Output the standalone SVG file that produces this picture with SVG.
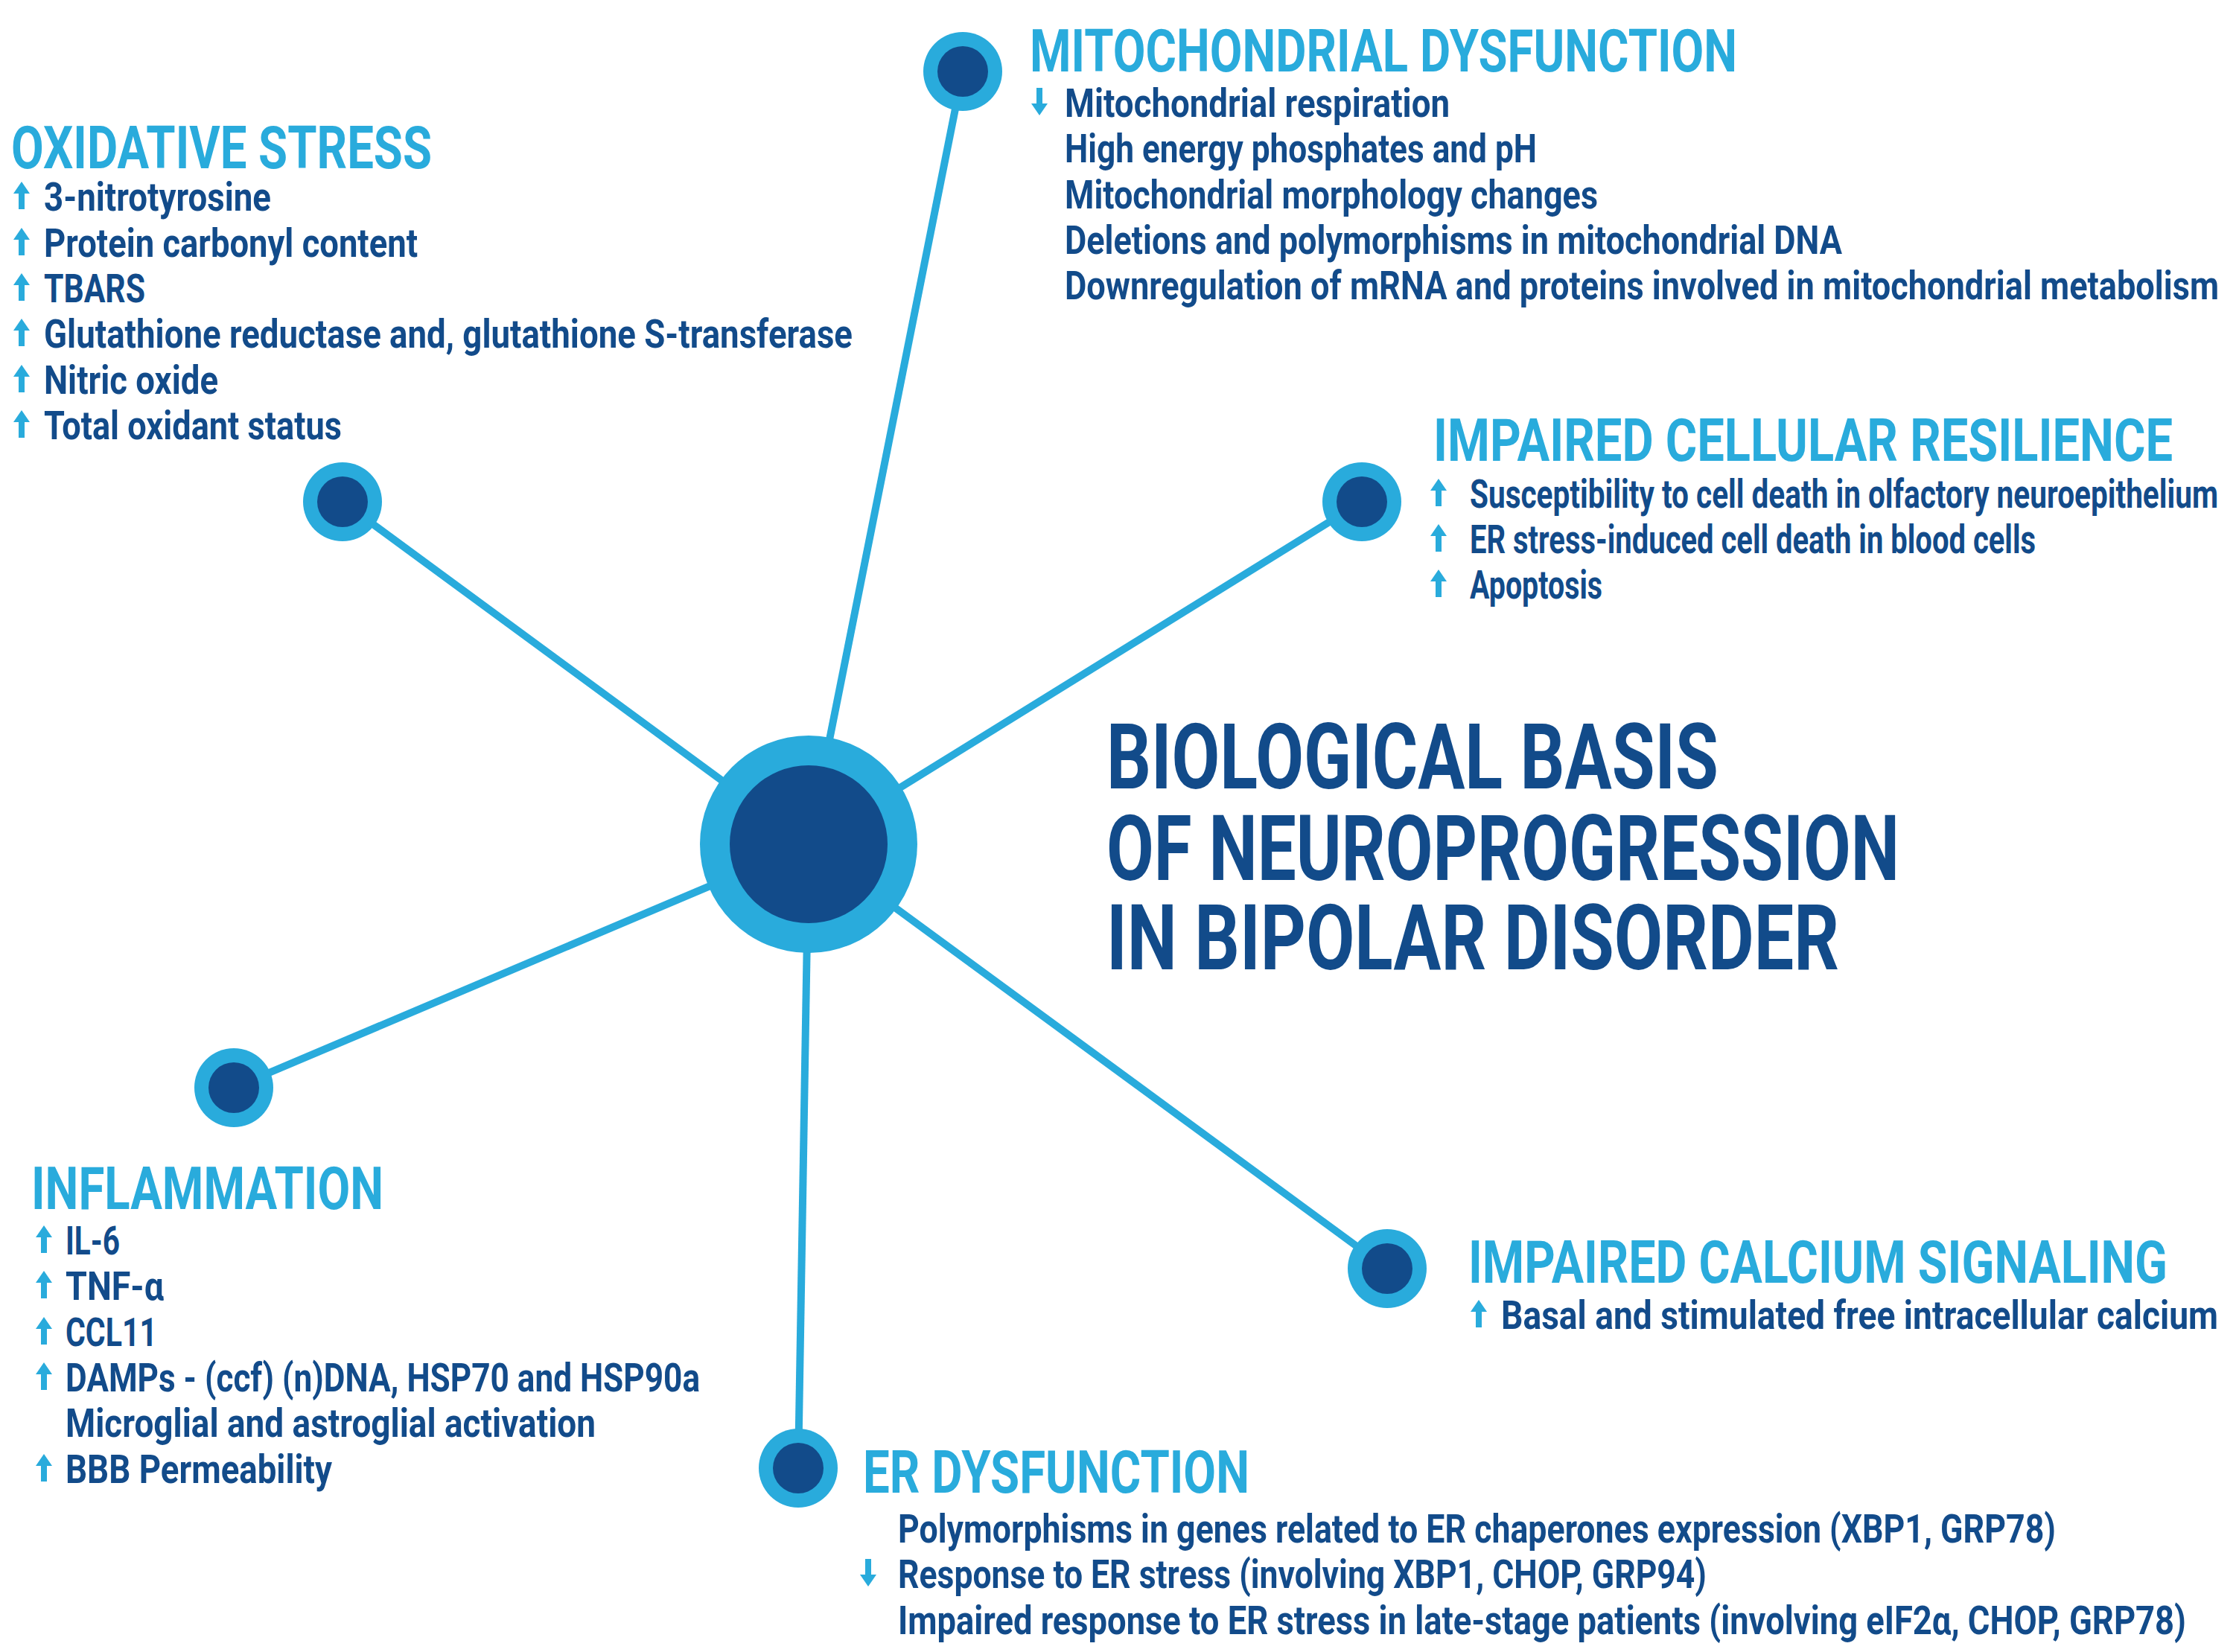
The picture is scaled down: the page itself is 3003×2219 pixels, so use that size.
<svg xmlns="http://www.w3.org/2000/svg" xmlns:xlink="http://www.w3.org/1999/xlink" width="3003" height="2219" viewBox="0 0 3003 2219">
<style>
.h{font-family:Roboto,"Liberation Sans",sans-serif;font-weight:700;fill:#29abdc;font-size:80px}
.t{font-family:Roboto,"Liberation Sans",sans-serif;font-weight:700;fill:#124b8a;font-size:53px}
.big{font-family:Roboto,"Liberation Sans",sans-serif;font-weight:700;fill:#124b8a;font-size:122px}
.ln{stroke:#29abdc;stroke-width:10;fill:none}
.o{fill:#29abdc}.i{fill:#124b8a}
</style>
<defs>
<path id="up" d="M0,-39 L11,-23 L4,-23 L4,-2 L-4,-2 L-4,-23 L-11,-23 Z" fill="#29abdc"/>
<path id="dn" d="M0,-2 L11,-18 L4,-18 L4,-39 L-4,-39 L-4,-18 L-11,-18 Z" fill="#29abdc"/>
</defs>
<rect width="3003" height="2219" fill="#fff"/>
<g id="connectors">
<line class="ln" x1="1086" y1="1134" x2="460" y2="674"/>
<line class="ln" x1="1086" y1="1134" x2="1293" y2="96"/>
<line class="ln" x1="1086" y1="1134" x2="1829" y2="674"/>
<line class="ln" x1="1086" y1="1134" x2="314" y2="1461"/>
<line class="ln" x1="1086" y1="1134" x2="1072" y2="1972"/>
<line class="ln" x1="1086" y1="1134" x2="1863" y2="1704"/>
</g>
<g id="center"><circle class="o" cx="1086" cy="1134" r="146"/><circle class="i" cx="1086" cy="1134" r="106"/>
<text class="big" x="1486" y="1059" textLength="822" lengthAdjust="spacingAndGlyphs">BIOLOGICAL BASIS</text>
<text class="big" x="1486" y="1182" textLength="1065" lengthAdjust="spacingAndGlyphs">OF NEUROPROGRESSION</text>
<text class="big" x="1486" y="1302" textLength="984" lengthAdjust="spacingAndGlyphs">IN BIPOLAR DISORDER</text></g>
<g id="oxidative"><circle class="o" cx="460" cy="674" r="53"/><circle class="i" cx="460" cy="674" r="34"/>
<text class="h" x="15" y="226" textLength="565" lengthAdjust="spacingAndGlyphs">OXIDATIVE STRESS</text>
<use xlink:href="#up" x="29" y="283"/><text class="t" x="59" y="283" textLength="305" lengthAdjust="spacingAndGlyphs">3-nitrotyrosine</text>
<use xlink:href="#up" x="29" y="345"/><text class="t" x="59" y="345" textLength="502" lengthAdjust="spacingAndGlyphs">Protein carbonyl content</text>
<use xlink:href="#up" x="29" y="406"/><text class="t" x="59" y="406" textLength="136" lengthAdjust="spacingAndGlyphs">TBARS</text>
<use xlink:href="#up" x="29" y="467"/><text class="t" x="59" y="467" textLength="1086" lengthAdjust="spacingAndGlyphs">Glutathione reductase and, glutathione S-transferase</text>
<use xlink:href="#up" x="29" y="529"/><text class="t" x="59" y="529" textLength="234" lengthAdjust="spacingAndGlyphs">Nitric oxide</text>
<use xlink:href="#up" x="29" y="590"/><text class="t" x="59" y="590" textLength="400" lengthAdjust="spacingAndGlyphs">Total oxidant status</text></g>
<g id="mito"><circle class="o" cx="1293" cy="96" r="53"/><circle class="i" cx="1293" cy="96" r="34"/>
<text class="h" x="1383" y="96" textLength="950" lengthAdjust="spacingAndGlyphs">MITOCHONDRIAL DYSFUNCTION</text>
<use xlink:href="#dn" x="1396" y="157"/><text class="t" x="1430" y="157" textLength="517" lengthAdjust="spacingAndGlyphs">Mitochondrial respiration</text>
<text class="t" x="1430" y="218" textLength="634" lengthAdjust="spacingAndGlyphs">High energy phosphates and pH</text>
<text class="t" x="1430" y="280" textLength="716" lengthAdjust="spacingAndGlyphs">Mitochondrial morphology changes</text>
<text class="t" x="1430" y="341" textLength="1044" lengthAdjust="spacingAndGlyphs">Deletions and polymorphisms in mitochondrial DNA</text>
<text class="t" x="1430" y="402" textLength="1550" lengthAdjust="spacingAndGlyphs">Downregulation of mRNA and proteins involved in mitochondrial metabolism</text></g>
<g id="resilience"><circle class="o" cx="1829" cy="674" r="53"/><circle class="i" cx="1829" cy="674" r="34"/>
<text class="h" x="1925" y="619" textLength="993" lengthAdjust="spacingAndGlyphs">IMPAIRED CELLULAR RESILIENCE</text>
<use xlink:href="#up" x="1932" y="682"/><text class="t" x="1974" y="682" textLength="1005" lengthAdjust="spacingAndGlyphs">Susceptibility to cell death in olfactory neuroepithelium</text>
<use xlink:href="#up" x="1932" y="743"/><text class="t" x="1974" y="743" textLength="760" lengthAdjust="spacingAndGlyphs">ER stress-induced cell death in blood cells</text>
<use xlink:href="#up" x="1932" y="804"/><text class="t" x="1974" y="804" textLength="178" lengthAdjust="spacingAndGlyphs">Apoptosis</text></g>
<g id="inflammation"><circle class="o" cx="314" cy="1461" r="53"/><circle class="i" cx="314" cy="1461" r="34"/>
<text class="h" x="42" y="1624" textLength="473" lengthAdjust="spacingAndGlyphs">INFLAMMATION</text>
<use xlink:href="#up" x="59" y="1685"/><text class="t" x="88" y="1685" textLength="73" lengthAdjust="spacingAndGlyphs">IL-6</text>
<use xlink:href="#up" x="59" y="1746"/><text class="t" x="88" y="1746" textLength="132" lengthAdjust="spacingAndGlyphs">TNF-α</text>
<use xlink:href="#up" x="59" y="1808"/><text class="t" x="88" y="1808" textLength="123" lengthAdjust="spacingAndGlyphs">CCL11</text>
<use xlink:href="#up" x="59" y="1869"/><text class="t" x="88" y="1869" textLength="852" lengthAdjust="spacingAndGlyphs">DAMPs - (ccf)  (n)DNA, HSP70 and HSP90a</text>
<text class="t" x="88" y="1930" textLength="712" lengthAdjust="spacingAndGlyphs">Microglial and astroglial activation</text>
<use xlink:href="#up" x="59" y="1992"/><text class="t" x="88" y="1992" textLength="358" lengthAdjust="spacingAndGlyphs">BBB Permeability</text></g>
<g id="calcium"><circle class="o" cx="1863" cy="1704" r="53"/><circle class="i" cx="1863" cy="1704" r="34"/>
<text class="h" x="1972" y="1723" textLength="939" lengthAdjust="spacingAndGlyphs">IMPAIRED CALCIUM SIGNALING</text>
<use xlink:href="#up" x="1986" y="1785"/><text class="t" x="2016" y="1785" textLength="963" lengthAdjust="spacingAndGlyphs">Basal and stimulated free intracellular calcium</text></g>
<g id="er"><circle class="o" cx="1072" cy="1972" r="53"/><circle class="i" cx="1072" cy="1972" r="34"/>
<text class="h" x="1159" y="2005" textLength="519" lengthAdjust="spacingAndGlyphs">ER DYSFUNCTION</text>
<text class="t" x="1206" y="2072" textLength="1555" lengthAdjust="spacingAndGlyphs">Polymorphisms in genes related to ER chaperones expression (XBP1, GRP78)</text>
<use xlink:href="#dn" x="1166" y="2133"/><text class="t" x="1206" y="2133" textLength="1086" lengthAdjust="spacingAndGlyphs">Response to ER stress (involving XBP1, CHOP, GRP94)</text>
<text class="t" x="1206" y="2195" textLength="1730" lengthAdjust="spacingAndGlyphs">Impaired response to ER stress in late-stage patients (involving eIF2α, CHOP, GRP78)</text></g>
</svg>
